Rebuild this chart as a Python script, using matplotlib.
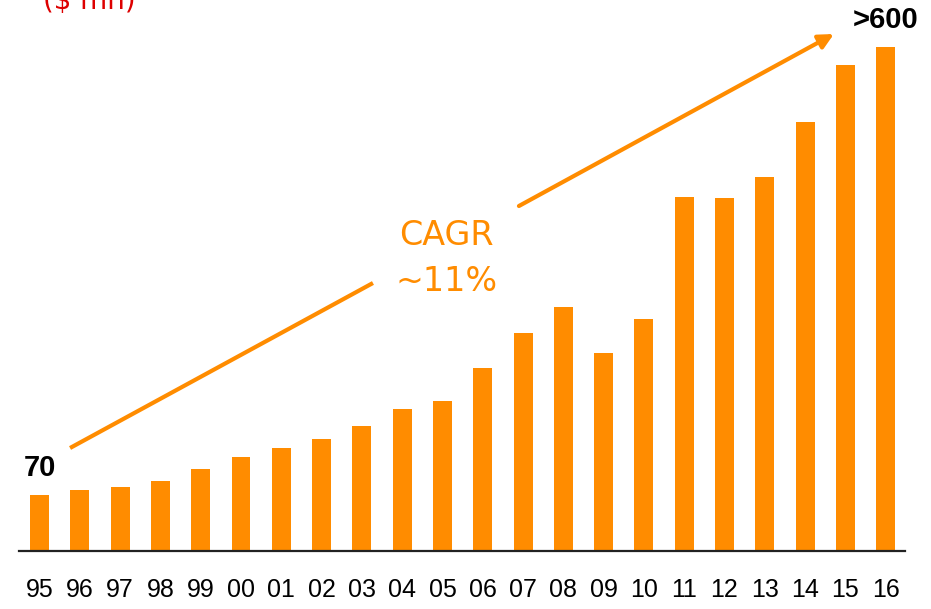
import numpy as np
import matplotlib.pyplot as plt

# yearly values ($ mn)
years = ['95', '96', '97', '98', '99', '00', '01', '02', '03', '04', '05',
         '06', '07', '08', '09', '10', '11', '12', '13', '14', '15', '16']
values = [70, 76, 80, 88, 103, 118, 129, 140, 156, 178, 188,
          229, 273, 305, 248, 290, 443, 441, 468, 536, 608, 630]
first_label = '70'
last_label = '>600'
cagr_lines = ['CAGR', '~11%']

orange = '#FF8C00'

fig = plt.figure(figsize=(9.31, 6.09), dpi=100)
ax = fig.add_axes([19 / 931, 58 / 609, 886 / 931, 551 / 609])

x = np.arange(len(years))
ax.bar(x, values, width=0.47, color=orange)

ax.set_xlim(-0.51, 21.48)
ax.set_ylim(0, 688.75)
for s in ['top', 'left', 'right']:
    ax.spines[s].set_visible(False)
ax.spines['bottom'].set_linewidth(1.6)
ax.spines['bottom'].set_color('#222222')
ax.set_yticks([])
ax.set_xticks(x)
ax.set_xticklabels(years, fontsize=18, family='Liberation Sans', color='black')
ax.tick_params(axis='x', length=0, pad=19.5)

# end labels
ax.annotate(first_label, (0, values[0]), xytext=(0, 14), textcoords='offset points',
            ha='center', va='baseline', fontsize=21, fontweight='bold',
            family='Liberation Sans')
ax.annotate(last_label, (x[-1], values[-1]), xytext=(0, 14), textcoords='offset points',
            ha='center', va='baseline', fontsize=21, fontweight='bold',
            family='Liberation Sans')

# growth arrow, broken around the CAGR text
ax.plot([0.757, 8.275], [128.75, 335], color=orange, lw=3, solid_capstyle='butt')
ax.annotate('', xy=(19.715, 646.25), xytext=(11.898, 431.25),
            arrowprops=dict(arrowstyle='-|>', color=orange, lw=3,
                            mutation_scale=22, shrinkA=0, shrinkB=0))
ax.text(10.09, 382.5, cagr_lines[0], ha='center', va='baseline',
        fontsize=24, color=orange)
ax.text(10.09, 325, cagr_lines[1], ha='center', va='baseline',
        fontsize=24, color=orange)

# unit label, cut off at the top edge
fig.text(43 / 931, 1 - 9 / 609, '($ mn)', ha='left', va='baseline',
         fontsize=20, color='#DD0000')

fig.savefig('out.png', dpi=100)
